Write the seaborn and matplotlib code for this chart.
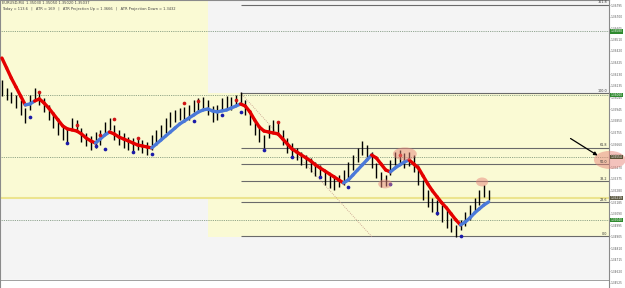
import numpy as np
import pandas as pd
import matplotlib
matplotlib.use("Agg")
import matplotlib.pyplot as plt
import matplotlib.transforms as mtransforms
from matplotlib.collections import LineCollection
from matplotlib.patches import Ellipse
import seaborn as sns

# ---------------- data ----------------
symbol_line = "EURUSD,M4  1.35030 1.35050 1.35020 1.35037"
info_line = "Today = 113.6   |   ATR = 169   |   ATR Projection Up = 1.3666   |   ATR Projection Down = 1.3432"

time_labels = ["29 Sep 2011", "29 Sep 19:00", "29 Sep 19:32", "29 Sep 19:58", "29 Sep 20:26",
               "29 Sep 20:49", "29 Sep 21:07", "29 Sep 21:30", "29 Sep 21:59", "30 Sep 00:21",
               "30 Sep 02:27", "30 Sep 03:13", "30 Sep 04:05", "30 Sep 04:32", "30 Sep 05:27",
               "30 Sep 06:44", "30 Sep 08:04", "30 Sep 08:22", "30 Sep 08:42", "30 Sep 09:02",
               "30 Sep 09:19"]
time_tick_bars = [0, 5, 10, 15, 20, 25, 30, 35, 40, 45, 50, 55, 60, 65, 70, 75, 80, 85, 90, 95, 100]

bar_high = [1.36183, 1.36117, 1.36085, 1.36060, 1.36020, 1.35954, 1.36060, 1.36117, 1.36085, 1.36036,
            1.35979, 1.35922, 1.35873, 1.35815, 1.35791, 1.35873, 1.35856, 1.35791, 1.35750, 1.35726,
            1.35758, 1.35775, 1.35840, 1.35873, 1.35815, 1.35775, 1.35750, 1.35717, 1.35709, 1.35709,
            1.35693, 1.35677, 1.35734, 1.35775, 1.35815, 1.35873, 1.35922, 1.35938, 1.35954, 1.35962,
            1.35979, 1.36020, 1.36036, 1.36044, 1.36020, 1.35970, 1.35979, 1.36036, 1.36052, 1.36044,
            1.36060, 1.36085, 1.36020, 1.35938, 1.35856, 1.35791, 1.35734, 1.35815, 1.35856, 1.35840,
            1.35775, 1.35709, 1.35668, 1.35628, 1.35595, 1.35570, 1.35546, 1.35513, 1.35489, 1.35448,
            1.35407, 1.35383, 1.35407, 1.35448, 1.35513, 1.35570, 1.35628, 1.35685, 1.35652, 1.35595,
            1.35505, 1.35432, 1.35407, 1.35530, 1.35595, 1.35611, 1.35587, 1.35595, 1.35570, 1.35489,
            1.35366, 1.35285, 1.35219, 1.35203, 1.35162, 1.35121, 1.35056, 1.34999, 1.35040, 1.35105,
            1.35162, 1.35219, 1.35285, 1.35326, 1.35285]

bar_low = [1.36052, 1.36020, 1.35995, 1.35954, 1.35897, 1.35832, 1.35938, 1.36020, 1.35979, 1.35922,
           1.35856, 1.35791, 1.35734, 1.35693, 1.35668, 1.35775, 1.35758, 1.35677, 1.35644, 1.35611,
           1.35628, 1.35652, 1.35734, 1.35775, 1.35693, 1.35652, 1.35628, 1.35611, 1.35587, 1.35611,
           1.35587, 1.35570, 1.35611, 1.35652, 1.35709, 1.35750, 1.35799, 1.35840, 1.35856, 1.35840,
           1.35856, 1.35922, 1.35938, 1.35954, 1.35897, 1.35840, 1.35856, 1.35938, 1.35954, 1.35938,
           1.35979, 1.35995, 1.35897, 1.35815, 1.35734, 1.35677, 1.35628, 1.35709, 1.35758, 1.35734,
           1.35652, 1.35587, 1.35554, 1.35530, 1.35489, 1.35464, 1.35432, 1.35399, 1.35383, 1.35326,
           1.35301, 1.35285, 1.35309, 1.35326, 1.35383, 1.35448, 1.35513, 1.35570, 1.35530, 1.35464,
           1.35383, 1.35309, 1.35317, 1.35407, 1.35489, 1.35489, 1.35464, 1.35481, 1.35432, 1.35326,
           1.35203, 1.35146, 1.35105, 1.35081, 1.35023, 1.34974, 1.34942, 1.34901, 1.34958, 1.34991,
           1.35040, 1.35105, 1.35162, 1.35228, 1.35203]

trend_line = [1.36362, 1.36281, 1.36199, 1.36126, 1.36052, 1.35979, 1.35987, 1.36011, 1.36028, 1.35995,
              1.35954, 1.35905, 1.35856, 1.35807, 1.35783, 1.35775, 1.35766, 1.35742, 1.35709, 1.35685,
              1.35668, 1.35701, 1.35734, 1.35758, 1.35742, 1.35717, 1.35701, 1.35685, 1.35668, 1.35652,
              1.35644, 1.35636, 1.35628, 1.35660, 1.35693, 1.35726, 1.35758, 1.35791, 1.35824, 1.35848,
              1.35873, 1.35897, 1.35922, 1.35938, 1.35946, 1.35930, 1.35922, 1.35930, 1.35938, 1.35954,
              1.35970, 1.35987, 1.35970, 1.35922, 1.35856, 1.35799, 1.35766, 1.35758, 1.35750, 1.35742,
              1.35701, 1.35660, 1.35619, 1.35595, 1.35570, 1.35546, 1.35521, 1.35489, 1.35464, 1.35440,
              1.35415, 1.35391, 1.35366, 1.35342, 1.35366, 1.35407, 1.35448, 1.35489, 1.35530, 1.35570,
              1.35546, 1.35497, 1.35448, 1.35432, 1.35464, 1.35489, 1.35513, 1.35530, 1.35497, 1.35464,
              1.35399, 1.35334, 1.35277, 1.35228, 1.35179, 1.35138, 1.35089, 1.35040, 1.34999, 1.35023,
              1.35056, 1.35097, 1.35130, 1.35162, 1.35187]

trend_up = [0, 0, 0, 0, 0, 0, 1, 1, 0, 0,
            0, 0, 0, 0, 0, 0, 0, 0, 0, 0,
            0, 1, 1, 1, 0, 0, 0, 0, 0, 0,
            0, 0, 0, 1, 1, 1, 1, 1, 1, 1,
            1, 1, 1, 1, 1, 1, 1, 1, 1, 1,
            1, 1, 0, 0, 0, 0, 0, 0, 0, 0,
            0, 0, 0, 0, 0, 0, 0, 0, 0, 0,
            0, 0, 0, 0, 1, 1, 1, 1, 1, 1,
            0, 0, 0, 0, 1, 1, 1, 1, 0, 0,
            0, 0, 0, 0, 0, 0, 0, 0, 0, 1,
            1, 1, 1, 1, 1]

swing_high_bar = [8, 16, 21, 24, 29, 39, 42, 50, 59, 85]
swing_high_price = [1.36085, 1.35815, 1.35734, 1.35864, 1.35709, 1.35995, 1.36011, 1.36020, 1.35840, 1.35570]
swing_low_bar = [6, 14, 20, 22, 28, 32, 41, 47, 51, 56, 62, 68, 74, 83, 93, 98]
swing_low_price = [1.35881, 1.35668, 1.35644, 1.35619, 1.35595, 1.35579, 1.35848, 1.35897, 1.35922,
                   1.35611, 1.35554, 1.35391, 1.35309, 1.35334, 1.35097, 1.34909]

fib_high = 1.36077
fib_low = 1.34909
fib_ratios = [0.0, 23.6, 38.2, 50.0, 61.8, 100.0, 161.8]
fib_start_bar = 51
diag_bars = [51, 79.1]
diag_prices = [1.36077, 1.34901]

zone_x_start = [-0.41, 44.04]
zone_x_end = [44.04, 129.72]
zone_low = [1.35219, 1.34901]
zone_high = [1.36836, 1.36077]

dotted_levels = [1.36580, 1.36060, 1.35554, 1.35040]
yellow_level = 1.35219
box_levels = [1.36580, 1.36060, 1.35554, 1.35219, 1.35040]
box_colors = ["#2f8a2f", "#2f8a2f", "#5a5034", "#5e5b44", "#2f8a2f"]

price_ticks = [1.34525, 1.34620, 1.34715, 1.34810, 1.34905, 1.34995, 1.35090, 1.35185, 1.35280,
               1.35375, 1.35470, 1.35565, 1.35660, 1.35755, 1.35850, 1.35945, 1.36040, 1.36135,
               1.36230, 1.36325, 1.36420, 1.36510, 1.36605, 1.36700, 1.36795]

ellipse_bar = [86.1, 81.9, 102.6, 129.9]
ellipse_price = [1.35579, 1.35334, 1.35350, 1.35530]
ellipse_w = [5.1, 3.0, 2.6, 6.8]
ellipse_h = [0.00106, 0.00073, 0.00073, 0.00147]

arrow_from = (121.0, 1.35717)
arrow_to = (127.8, 1.35554)

# ---------------- drawing ----------------
sns.set_theme(style="white")
plt.rcParams['font.family'] = ['DejaVu Sans']

fig = plt.figure(figsize=(6.25, 2.88), dpi=100)
fig.patch.set_facecolor("white")
ax = fig.add_axes([0, 0, 609 / 625, 1])
ax.set_facecolor("#f4f4f4")
ax.set_xlim(-0.41, 129.72)
ax.set_ylim(1.34484, 1.36836)

# yellow zones
for x0, x1, lo, hi in zip(zone_x_start, zone_x_end, zone_low, zone_high):
    ax.fill_between([x0, x1], [lo, lo], [hi, hi], color="#fafad4", lw=0, zorder=0.5)

# bottom time strip
ax.axhspan(1.34484, 1.34550, color="white", zorder=1.5)
ax.axhline(1.34550, color="#a0a0a0", lw=0.7, zorder=1.6)

# dotted horizontal levels
for lv in dotted_levels:
    ax.axhline(lv, color="#6f8a6f", lw=0.6, ls=(0, (1, 1.2)), zorder=1.8)
ax.axhline(yellow_level, color="#ece48e", lw=1.5, zorder=1.8)

# fibonacci
fib_df = pd.DataFrame({"ratio": fib_ratios})
fib_df["price"] = fib_low + fib_df["ratio"] / 100.0 * (fib_high - fib_low)
ax.hlines(fib_df["price"], fib_start_bar, 129.72, color="#6a6a6a", lw=0.8, zorder=1.9)
for r, p in zip(fib_df["ratio"], fib_df["price"]):
    ax.text(129.3, p + 0.00003, f"{r:.1f}", fontsize=2.4, color="#333333",
            ha="right", va="bottom", zorder=7)
ax.plot(diag_bars, diag_prices, color="#c49585", lw=0.6, ls=(0, (1, 1.5)), zorder=1.9)

# OHLC bars
bars = pd.DataFrame({"bar": np.arange(len(bar_high)), "high": bar_high, "low": bar_low,
                     "trend": trend_line, "up": trend_up})
ax.vlines(bars["bar"], bars["low"], bars["high"], color="black", lw=1.0, zorder=3)

# trend indicator line (red down / blue up)
segs, cols = [], []
for i in range(1, len(bars)):
    segs.append([(bars["bar"][i - 1], bars["trend"][i - 1]), (bars["bar"][i], bars["trend"][i])])
    cols.append("#4b79d9" if bars["up"][i] == 1 else "#e40000")
lc = LineCollection(segs, colors=cols, linewidths=2.4, capstyle="round", zorder=4)
ax.add_collection(lc)

# swing dots
sns.scatterplot(x=swing_high_bar, y=swing_high_price, color="#d01515", s=7, linewidth=0,
                ax=ax, zorder=5, legend=False)
sns.scatterplot(x=swing_low_bar, y=swing_low_price, color="#1a1aa8", s=7, linewidth=0,
                ax=ax, zorder=5, legend=False)

# highlight ellipses
for bx, py, w, h in zip(ellipse_bar, ellipse_price, ellipse_w, ellipse_h):
    ax.add_patch(Ellipse((bx, py), w, h, fc="#e8867b", ec="none", alpha=0.5, zorder=6, clip_on=False))

# arrow
ax.annotate("", xy=arrow_to, xytext=arrow_from,
            arrowprops=dict(arrowstyle="-|>", color="black", lw=0.9, mutation_scale=5), zorder=7)

# header text
ax.text(0.004, 0.997, symbol_line, transform=ax.transAxes, fontsize=2.6, color="#444444", va="top")
ax.text(0.004, 0.975, info_line, transform=ax.transAxes, fontsize=2.6, color="#444444", va="top")

# axes, ticks
ax.set_xticks(time_tick_bars)
ax.set_xticklabels(time_labels, fontsize=2.3, color="#444444", ha="left")
ax.tick_params(axis="x", direction="in", length=0, pad=-5.2)
ax.yaxis.tick_right()
ax.set_yticks(price_ticks)
ax.set_yticklabels([f"{p:.5f}" for p in price_ticks], fontsize=2.1, color="#555555")
ax.tick_params(axis="y", length=1.0, width=0.4, pad=0.4, colors="#777777", labelcolor="#555555")

trans = mtransforms.blended_transform_factory(ax.transAxes, ax.transData)
for lv, c in zip(box_levels, box_colors):
    ax.text(1.003, lv, f"{lv:.5f}", transform=trans, fontsize=2.1, color="white", ha="left",
            va="center", clip_on=False, zorder=8,
            bbox=dict(boxstyle="square,pad=0.12", fc=c, ec="none"))

for side in ["left", "top", "right"]:
    ax.spines[side].set_color("#8a8a8a")
    ax.spines[side].set_linewidth(0.8)
ax.spines["bottom"].set_visible(False)
ax.set_xlabel("")
ax.set_ylabel("")

fig.savefig("out.png", dpi=100)
